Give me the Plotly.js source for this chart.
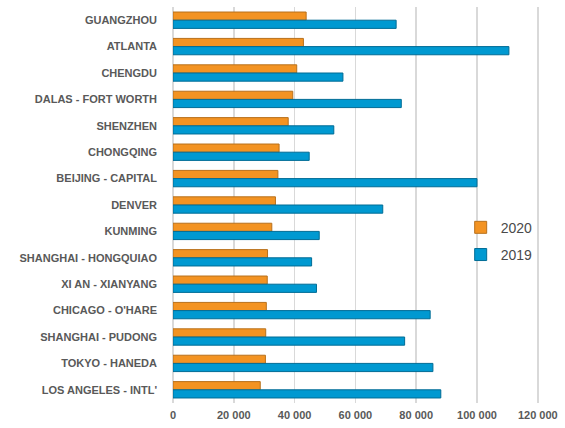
<!DOCTYPE html>
<html>
<head>
<meta charset="utf-8">
<script src="https://cdn.plot.ly/plotly-3.0.1.min.js"></script>
<style>
html,body{margin:0;padding:0;background:#fff;}
#chart{width:565px;height:428px;}
</style>
</head>
<body>
<div id="chart"></div>
<script>
var airports = [
  "GUANGZHOU", "ATLANTA", "CHENGDU", "DALAS - FORT WORTH", "SHENZHEN",
  "CHONGQING", "BEIJING - CAPITAL", "DENVER", "KUNMING", "SHANGHAI - HONGQUIAO",
  "XI AN - XIANYANG", "CHICAGO - O'HARE", "SHANGHAI - PUDONG", "TOKYO - HANEDA",
  "LOS ANGELES - INTL'"
];
var passengers2020 = [43800, 42900, 40700, 39400, 37900, 34900, 34500, 33700, 32500, 31100, 31000, 30700, 30500, 30400, 28700];
var passengers2019 = [73400, 110500, 55900, 75100, 52900, 44800, 100000, 69000, 48100, 45600, 47200, 84600, 76200, 85500, 88100];
var xTicks = [0, 20000, 40000, 60000, 80000, 100000, 120000];

var traces = [
  {
    type: "bar", orientation: "h", name: "2020",
    y: airports, x: passengers2020, legendgroup: "a",
    marker: {color: "#F39322", line: {color: "#B8711C", width: 1}},
    hoverinfo: "x+y"
  },
  {
    type: "bar", orientation: "h", name: "2019",
    y: airports, x: passengers2019, legendgroup: "b",
    marker: {color: "#0099D1", line: {color: "#006C95", width: 1}},
    hoverinfo: "x+y"
  }
];

var layout = {
  width: 565, height: 428,
  margin: {l: 173, r: 26, t: 7, b: 25},
  paper_bgcolor: "#fff", plot_bgcolor: "#fff",
  barmode: "group", bargap: 0.38, bargroupgap: 0,
  separators: ". ",
  font: {family: "Liberation Sans, Arial, sans-serif", color: "#595959"},
  showlegend: true,
  legend: {
    x: 0.786, y: 0.483, xanchor: "left", yanchor: "top",
    bgcolor: "rgba(0,0,0,0)", tracegroupgap: 6, itemwidth: 30,
    font: {size: 14, color: "#4a4a4a"}
  },
  xaxis: {
    range: [0, 120400], tickvals: xTicks, tickformat: ",d",
    showgrid: true, gridcolor: "#d9d9d9", gridwidth: 1.5,
    zeroline: true, zerolinecolor: "#d9d9d9", zerolinewidth: 1.5,
    showline: false, ticks: "", ticklabelstandoff: 4,
    tickfont: {size: 11, color: "#595959", family: "Liberation Sans, Arial, sans-serif", weight: "bold"}
  },
  yaxis: {
    type: "category", autorange: "reversed",
    showgrid: false, zeroline: false, showline: false, ticks: "",
    ticklabelstandoff: 15,
    tickfont: {size: 11, color: "#595959", family: "Liberation Sans, Arial, sans-serif", weight: "bold"}
  }
};

Plotly.newPlot("chart", traces, layout, {displayModeBar: false, staticPlot: true});
</script>
</body>
</html>
